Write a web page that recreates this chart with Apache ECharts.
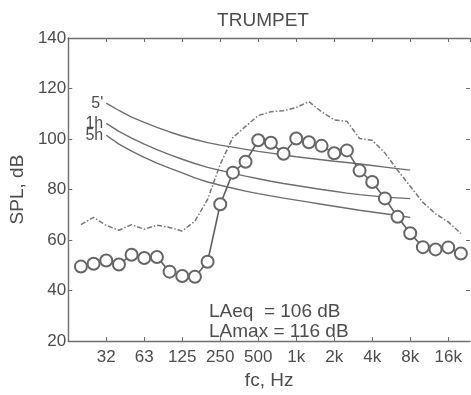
<!DOCTYPE html>
<html>
<head>
<meta charset="utf-8">
<script src="https://cdn.jsdelivr.net/npm/echarts@6/dist/echarts.min.js"></script>
<style>
  html, body { margin: 0; padding: 0; background: #fff; }
  #chart { width: 471px; height: 395px; }
</style>
</head>
<body>
<div id="chart"></div>
<script>
// third-octave bands, 20 Hz .. 20 kHz
const bands = ["20", "25", "31.5", "40", "50", "63", "80", "100", "125", "160", "200",
  "250", "315", "400", "500", "630", "800", "1k", "1.25k", "1.6k", "2k", "2.5k",
  "3.15k", "4k", "5k", "6.3k", "8k", "10k", "12.5k", "16k", "20k"];

// Leq per band (circles)
const splLeq = [49.5, 50.6, 51.9, 50.3, 54.2, 52.9, 53.3, 47.5, 45.8, 45.5, 51.4,
  74.2, 86.7, 91.0, 99.5, 98.5, 94.2, 100.2, 98.7, 97.3, 94.4, 95.5,
  87.5, 83.0, 76.5, 69.2, 62.7, 57.2, 56.3, 57.1, 54.7];

// Lmax per band (dash-dot)
const splMax = [66.1, 69.0, 65.8, 63.9, 66.1, 64.3, 65.9, 65.0, 63.6, 67.5, 76.1,
  90.0, 100.6, 105.0, 109.3, 110.8, 111.2, 112.5, 114.8, 110.8, 107.6, 107.0,
  100.2, 99.5, 94.5, 87.7, 81.3, 74.9, 70.4, 67.2, 62.6];

// exposure limit curves, 32 Hz .. 8 kHz
const curveNames = ["5'", "1h", "5h"];
const curve5min = [114.2, 111.3, 108.7, 106.6, 104.6, 102.8, 101.2, 99.8, 98.6, 97.6,
  96.8, 95.9, 95.1, 94.4, 93.7, 93.0, 92.4, 91.8, 91.2, 90.7, 90.1, 89.5, 88.9, 88.3, 87.7];
const curve1h = [106.2, 103.0, 100.4, 98.0, 95.8, 93.8, 92.0, 90.3, 88.8, 87.6,
  86.4, 85.3, 84.3, 83.3, 82.4, 81.6, 80.8, 80.0, 79.3, 78.6, 78.0, 77.5, 77.0, 76.7, 76.4];
const curve5h = [101.5, 98.0, 95.2, 92.7, 90.5, 88.5, 86.6, 84.6, 83.0, 81.7,
  80.5, 79.4, 78.4, 77.5, 76.6, 75.8, 75.0, 74.2, 73.4, 72.6, 71.8, 71.1, 70.4, 69.7, 69.0];

const tickLabels = ["32", "63", "125", "250", "500", "1k", "2k", "4k", "8k", "16k"];

// x position: band index with 32 Hz at 0
const bandX = i => i - 2;
const curveStart = 2;

const textColor = "#4d4d4d";
const font = "Liberation Sans";

function pairs(arr, start) {
  return arr.map((v, i) => [bandX(i + start), v]);
}

function curveSeries(name, arr) {
  const data = pairs(arr, curveStart);
  data[0] = {
    value: data[0],
    label: {
      show: true, position: "left", distance: 3, formatter: name,
      fontSize: 16, color: textColor, fontFamily: font
    }
  };
  return {
    name: name, type: "line", data: data,
    showSymbol: true, showAllSymbol: true, symbol: "circle", symbolSize: 0,
    label: { show: false },
    lineStyle: { color: "#6e6e6e", width: 1.4 }, z: 2, silent: true
  };
}

const chart = echarts.init(document.getElementById("chart"));
const axisCommon = {
  type: "value",
  axisLine: { show: true, onZero: false, lineStyle: { color: "#6e6e6e", width: 1.4 } },
  axisTick: { show: true, inside: true, length: 4, lineStyle: { color: "#6e6e6e" } },
  splitLine: { show: false }
};

const option = {
  backgroundColor: "#fff",
  animation: false,
  textStyle: { fontFamily: font },
  title: {
    text: "TRUMPET", left: 258, textAlign: "center", top: 6,
    textStyle: { fontSize: 19, fontWeight: "normal", color: textColor, fontFamily: font }
  },
  grid: { left: 51, right: 1, top: 38, bottom: 47 },
  xAxis: [
    Object.assign({}, axisCommon, {
      position: "bottom", min: -3, max: 28.72, interval: 3,
      name: "fc, Hz", nameLocation: "middle", nameGap: 25,
      nameTextStyle: { fontSize: 19, color: textColor },
      axisLabel: {
        fontSize: 17, color: textColor, margin: 8, showMaxLabel: false, showMinLabel: false,
        formatter: v => (v >= 0 && v % 3 === 0 && tickLabels[v / 3]) ? tickLabels[v / 3] : ""
      }
    }),
    Object.assign({}, axisCommon, {
      position: "top", min: -3, max: 28.72, interval: 3, axisLabel: { show: false }
    })
  ],
  yAxis: [
    Object.assign({}, axisCommon, {
      position: "left", min: 20, max: 140, interval: 20,
      name: "SPL, dB", nameLocation: "middle", nameGap: 29,
      nameTextStyle: { fontSize: 19, color: textColor },
      axisLabel: { fontSize: 17, color: textColor, margin: 2 }
    }),
    Object.assign({}, axisCommon, {
      position: "right", min: 20, max: 140, interval: 20, axisLabel: { show: false },
      axisLine: { show: false, onZero: false }
    })
  ],
  graphic: [
    {
      type: "text", left: 209, top: 302,
      style: { text: "LAeq  = 106 dB", fontSize: 19, fill: textColor, fontFamily: font }
    },
    {
      type: "text", left: 209, top: 322,
      style: { text: "LAmax = 116 dB", fontSize: 19, fill: textColor, fontFamily: font }
    }
  ],
  series: [
    curveSeries(curveNames[0], curve5min),
    curveSeries(curveNames[1], curve1h),
    curveSeries(curveNames[2], curve5h),
    {
      name: "Lmax", type: "line", data: pairs(splMax, 0), symbol: "none",
      lineStyle: { color: "#777", width: 1.5, type: [5, 2, 1.5, 2] }, z: 2, silent: true
    },
    {
      name: "Leq", type: "line", data: pairs(splLeq, 0),
      symbol: "circle", symbolSize: 12,
      itemStyle: { color: "#fff", borderColor: "#666", borderWidth: 2 },
      lineStyle: { color: "#606060", width: 1.6 }, z: 3, silent: true
    }
  ]
};
chart.setOption(option);
</script>
</body>
</html>
